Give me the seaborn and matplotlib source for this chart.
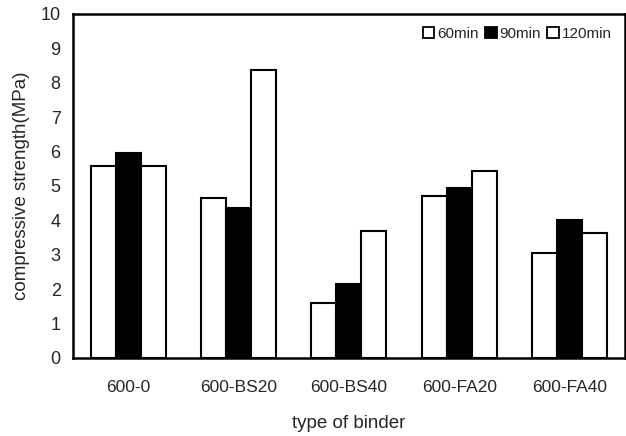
import matplotlib
matplotlib.use("Agg")
import matplotlib.pyplot as plt
import seaborn as sns
import pandas as pd

binders = ["600-0", "600-BS20", "600-BS40", "600-FA20", "600-FA40"]
times = ["60min", "90min", "120min"]
s60 = [5.58, 4.65, 1.60, 4.72, 3.04]
s90 = [5.96, 4.36, 2.14, 4.95, 4.01]
s120 = [5.58, 8.37, 3.70, 5.44, 3.64]

rows = []
for t, vals in zip(times, [s60, s90, s120]):
    for b, v in zip(binders, vals):
        rows.append({"binder": b, "time": t, "strength": v})
df = pd.DataFrame(rows)

sns.set_style("white")
plt.rcParams["font.family"] = ["Liberation Sans", "DejaVu Sans"]

fig = plt.figure(figsize=(6.26, 4.36), dpi=100)
ax = fig.add_axes([0.117, 0.179, 0.881, 0.789])

sns.barplot(data=df, x="binder", y="strength", hue="time", order=binders,
            hue_order=times, palette=["white", "black", "white"],
            edgecolor="black", linewidth=1.5, width=0.68, ax=ax)

ax.set_ylim(0, 10)
ax.set_xlim(-0.5, 4.5)
ax.set_yticks(range(0, 11))
ax.tick_params(axis="y", direction="in", length=3, labelsize=13, width=1, pad=9)
ax.tick_params(axis="x", length=0, labelsize=12.5, pad=16)
ax.set_xlabel("type of binder", fontsize=13.5, labelpad=14)
ax.set_ylabel("compressive strength(MPa)", fontsize=13.5, labelpad=8)
for sp in ax.spines.values():
    sp.set_color("black")
    sp.set_linewidth(1.8)

leg = ax.legend(loc="upper right", frameon=False, ncol=3, fontsize=11,
                handlelength=0.75, handleheight=0.75, handletextpad=0.2,
                columnspacing=0.4, borderaxespad=0.45)
for h in leg.legend_handles:
    h.set_edgecolor("black")
    h.set_linewidth(1.3)

fig.savefig("out.png", dpi=100)
